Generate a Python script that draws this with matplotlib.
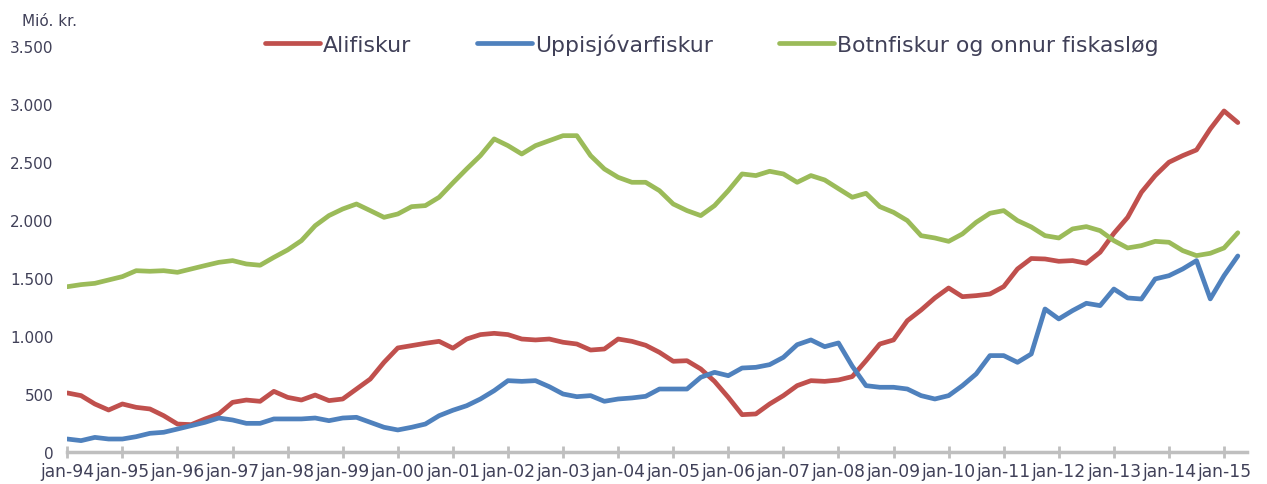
import numpy as np
import matplotlib
matplotlib.use("Agg")
from matplotlib import pyplot as plt

# quarterly readings, jan-94 .. apr-15 (month index = 3 * position)
months = np.arange(0, 256, 3)

alifiskur = [509, 486, 414, 362, 414, 385, 371, 313, 241, 236, 285, 328, 428, 448, 437,
             523, 471, 448, 491, 443, 457, 543, 629, 773, 897, 917, 937, 954, 895,
             974, 1012, 1023, 1012, 974, 966, 974, 946, 931, 879, 888, 974, 954, 920,
             859, 782, 787, 716, 609, 471, 322, 328, 414, 486, 572, 615, 609, 621,
             650, 787, 931, 966, 1132, 1224, 1328, 1414, 1339, 1348, 1362, 1426, 1578, 1668,
             1664, 1644, 1650, 1627, 1722, 1885, 2023, 2239, 2383, 2498, 2555, 2604, 2785, 2940, 2840]

uppisjovar = [112, 98, 126, 112, 112, 132, 161, 170, 198, 227, 256, 293, 276, 247, 247,
              285, 285, 285, 293, 270, 293, 299, 256, 213, 190, 213, 241, 313, 360,
              399, 457, 529, 615, 609, 615, 563, 500, 477, 486, 437, 457, 466, 480,
              543, 543, 543, 644, 687, 658, 724, 730, 753, 816, 925, 966, 908, 940,
              740, 572, 558, 558, 543, 486, 457, 486, 572, 673, 831, 831, 773, 845,
              1233, 1147, 1219, 1282, 1262, 1405, 1328, 1319, 1492, 1520, 1578, 1650, 1320, 1520, 1690]

botnfiskur = [1425, 1443, 1454, 1483, 1512, 1563, 1558, 1563, 1549, 1578, 1607, 1635, 1650, 1621, 1610,
              1678, 1742, 1822, 1951, 2038, 2095, 2138, 2081, 2023, 2052, 2115, 2124, 2196, 2320,
              2440, 2555, 2699, 2641, 2569, 2641, 2684, 2727, 2727, 2555, 2440, 2368, 2325, 2325,
              2253, 2138, 2081, 2038, 2124, 2253, 2397, 2383, 2420, 2397, 2325, 2383, 2345, 2270,
              2196, 2230, 2115, 2066, 1995, 1865, 1845, 1816, 1880, 1980, 2058, 2081, 1995, 1940,
              1865, 1845, 1923, 1943, 1908, 1822, 1759, 1779, 1816, 1808, 1736, 1693, 1713, 1759, 1890]

series_names = ["Alifiskur", "Uppisjóvarfiskur", "Botnfiskur og onnur fiskasløg"]
colors = ["#C0504D", "#4F81BD", "#9BBB59"]

year_labels = ["jan-%02d" % (y % 100) for y in range(1994, 2016)]
y_ticks = [0, 500, 1000, 1500, 2000, 2500, 3000, 3500]

text_col = "#404058"

fig = plt.figure(figsize=(12.67, 4.85), dpi=100)
ax = fig.add_axes([67.3 / 1267, 32 / 485, (1247 - 67.3) / 1267, 406 / 485])

for vals, name, c in zip([alifiskur, uppisjovar, botnfiskur], series_names, colors):
    ax.plot(months, vals, color=c, lw=3.4, label=name, solid_capstyle="round", solid_joinstyle="round")

ax.set_xlim(0, 257)
ax.set_ylim(0, 3500)
ax.set_xticks(np.arange(0, 253, 12))
ax.set_xticklabels(year_labels[:22], fontsize=12.3, color=text_col)
ax.set_yticks(y_ticks)
ax.set_yticklabels([f"{v:,}".replace(",", ".") for v in y_ticks], fontsize=11, color=text_col)

for s in ["top", "right", "left"]:
    ax.spines[s].set_visible(False)
ax.spines["bottom"].set_color("#BFBFBF")
ax.spines["bottom"].set_linewidth(2.5)
ax.tick_params(axis="x", direction="inout", length=9, width=2, color="#BFBFBF", pad=3)
ax.tick_params(axis="y", length=0, pad=10)

fig.text(22 / 1267, 1 - 22 / 485, "Mió. kr.", fontsize=11, color=text_col, va="center")

fig.legend(loc="center", bbox_to_anchor=(712 / 1267, 1 - 45 / 485), ncol=3, frameon=False,
           fontsize=15.8, handlelength=2.5, handletextpad=0.15, columnspacing=3.0,
           labelcolor=text_col)

fig.savefig("out.png", dpi=100)
